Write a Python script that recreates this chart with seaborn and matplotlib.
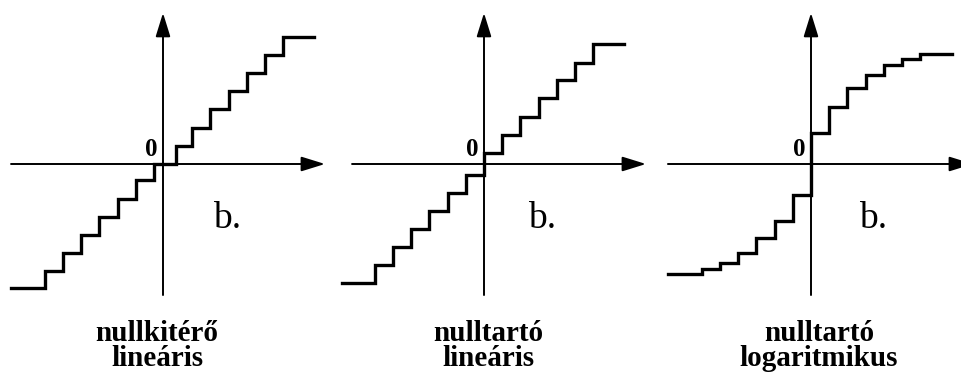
import matplotlib
matplotlib.use("Agg")
import matplotlib.pyplot as plt
import seaborn as sns

sns.set_style("white")
plt.rcParams['font.family'] = ['Liberation Serif', 'DejaVu Serif']
plt.rcParams['text.color'] = 'black'

# ---- data (in units of one quantisation step) ----
p1_x = [-8.35, -6.5, -5.5, -4.5, -3.5, -2.5, -1.5, -0.5, 0.7, 1.6, 2.6, 3.6, 4.6, 5.6, 6.6, 8.3]
p1_y = [-6.8, -5.9, -4.9, -3.9, -2.9, -1.9, -0.9, 0.0, 1.0, 2.0, 3.0, 4.0, 5.0, 6.0, 7.0]

p2_x = [-7.8, -6, -5, -4, -3, -2, -1, 0, 1, 2, 3, 4, 5, 6, 7.7]
p2_y = [-6.55, -5.55, -4.55, -3.55, -2.6, -1.6, -0.6, 0.6, 1.6, 2.6, 3.6, 4.6, 5.55, 6.6]

p3_x = [-7.86, -6, -5, -4, -3, -2, -1, 0, 1, 2, 3, 4, 5, 6, 7.75]
p3_y = [-6.04, -5.77, -5.44, -4.89, -4.07, -3.13, -1.70, 1.70, 3.13, 4.18, 4.89, 5.44, 5.77, 6.04]

xs = [p1_x, p2_x, p3_x]
ys = [p1_y, p2_y, p3_y]
titles = ["nullkitérő\nlineáris", "nulltartó\nlineáris", "nulltartó\nlogaritmikus"]
panel_mark = "b."
zero_label = "0"

# ---- layout ----
W, H = 962, 376
S = 18.2                     # px per step
origins_x = [163, 484, 811]  # y-axis pixel positions
origin_y = 164
xaxis_left = [-8.35, -7.25, -7.86]
xaxis_tip = 8.9
yaxis_bottom = -7.2
yaxis_tip = 8.3
title_x = [157, 488, 819]
b_dx = [3.5, 3.2, 3.4]

fig = plt.figure(figsize=(W / 100, H / 100), dpi=100)
half = 160
for i in range(3):
    ox = origins_x[i]
    ax = fig.add_axes([(ox - half) / W, 0, 2 * half / W, 1])
    ax.set_xlim(-half / S, half / S)
    ax.set_ylim(-(H - origin_y) / S, origin_y / S)
    ax.axis("off")

    # axes with arrows
    ax.annotate("", xy=(xaxis_tip, 0), xytext=(xaxis_left[i], 0),
                arrowprops=dict(arrowstyle="-|>,head_length=1.45,head_width=0.45",
                                lw=1.4, color="black", shrinkA=0, shrinkB=0),
                annotation_clip=False)
    ax.annotate("", xy=(0, yaxis_tip), xytext=(0, yaxis_bottom),
                arrowprops=dict(arrowstyle="-|>,head_length=1.45,head_width=0.45",
                                lw=1.4, color="black", shrinkA=0, shrinkB=0),
                annotation_clip=False)

    yy = list(ys[i]) + [ys[i][-1]]
    sns.lineplot(x=xs[i], y=yy, ax=ax, drawstyle="steps-post", color="black",
                 linewidth=2.4, estimator=None, sort=False, legend=False)
    for ln in ax.lines:
        ln.set_clip_on(False)
        ln.set_solid_capstyle("projecting")
        ln.set_solid_joinstyle("miter")

    ax.text(-0.65, 0.8, zero_label, ha="center", va="center",
            fontsize=18, fontweight="bold", color="black")
    ax.text(b_dx[i], -3.5, panel_mark, ha="center", va="baseline", fontsize=27,
            color="black")

    fig.text(title_x[i] / W, 1 - 346 / H, titles[i], ha="center", va="center",
             fontsize=21, fontweight="bold", linespacing=0.92, color="black")

fig.savefig("out.png", dpi=100, facecolor="white")
